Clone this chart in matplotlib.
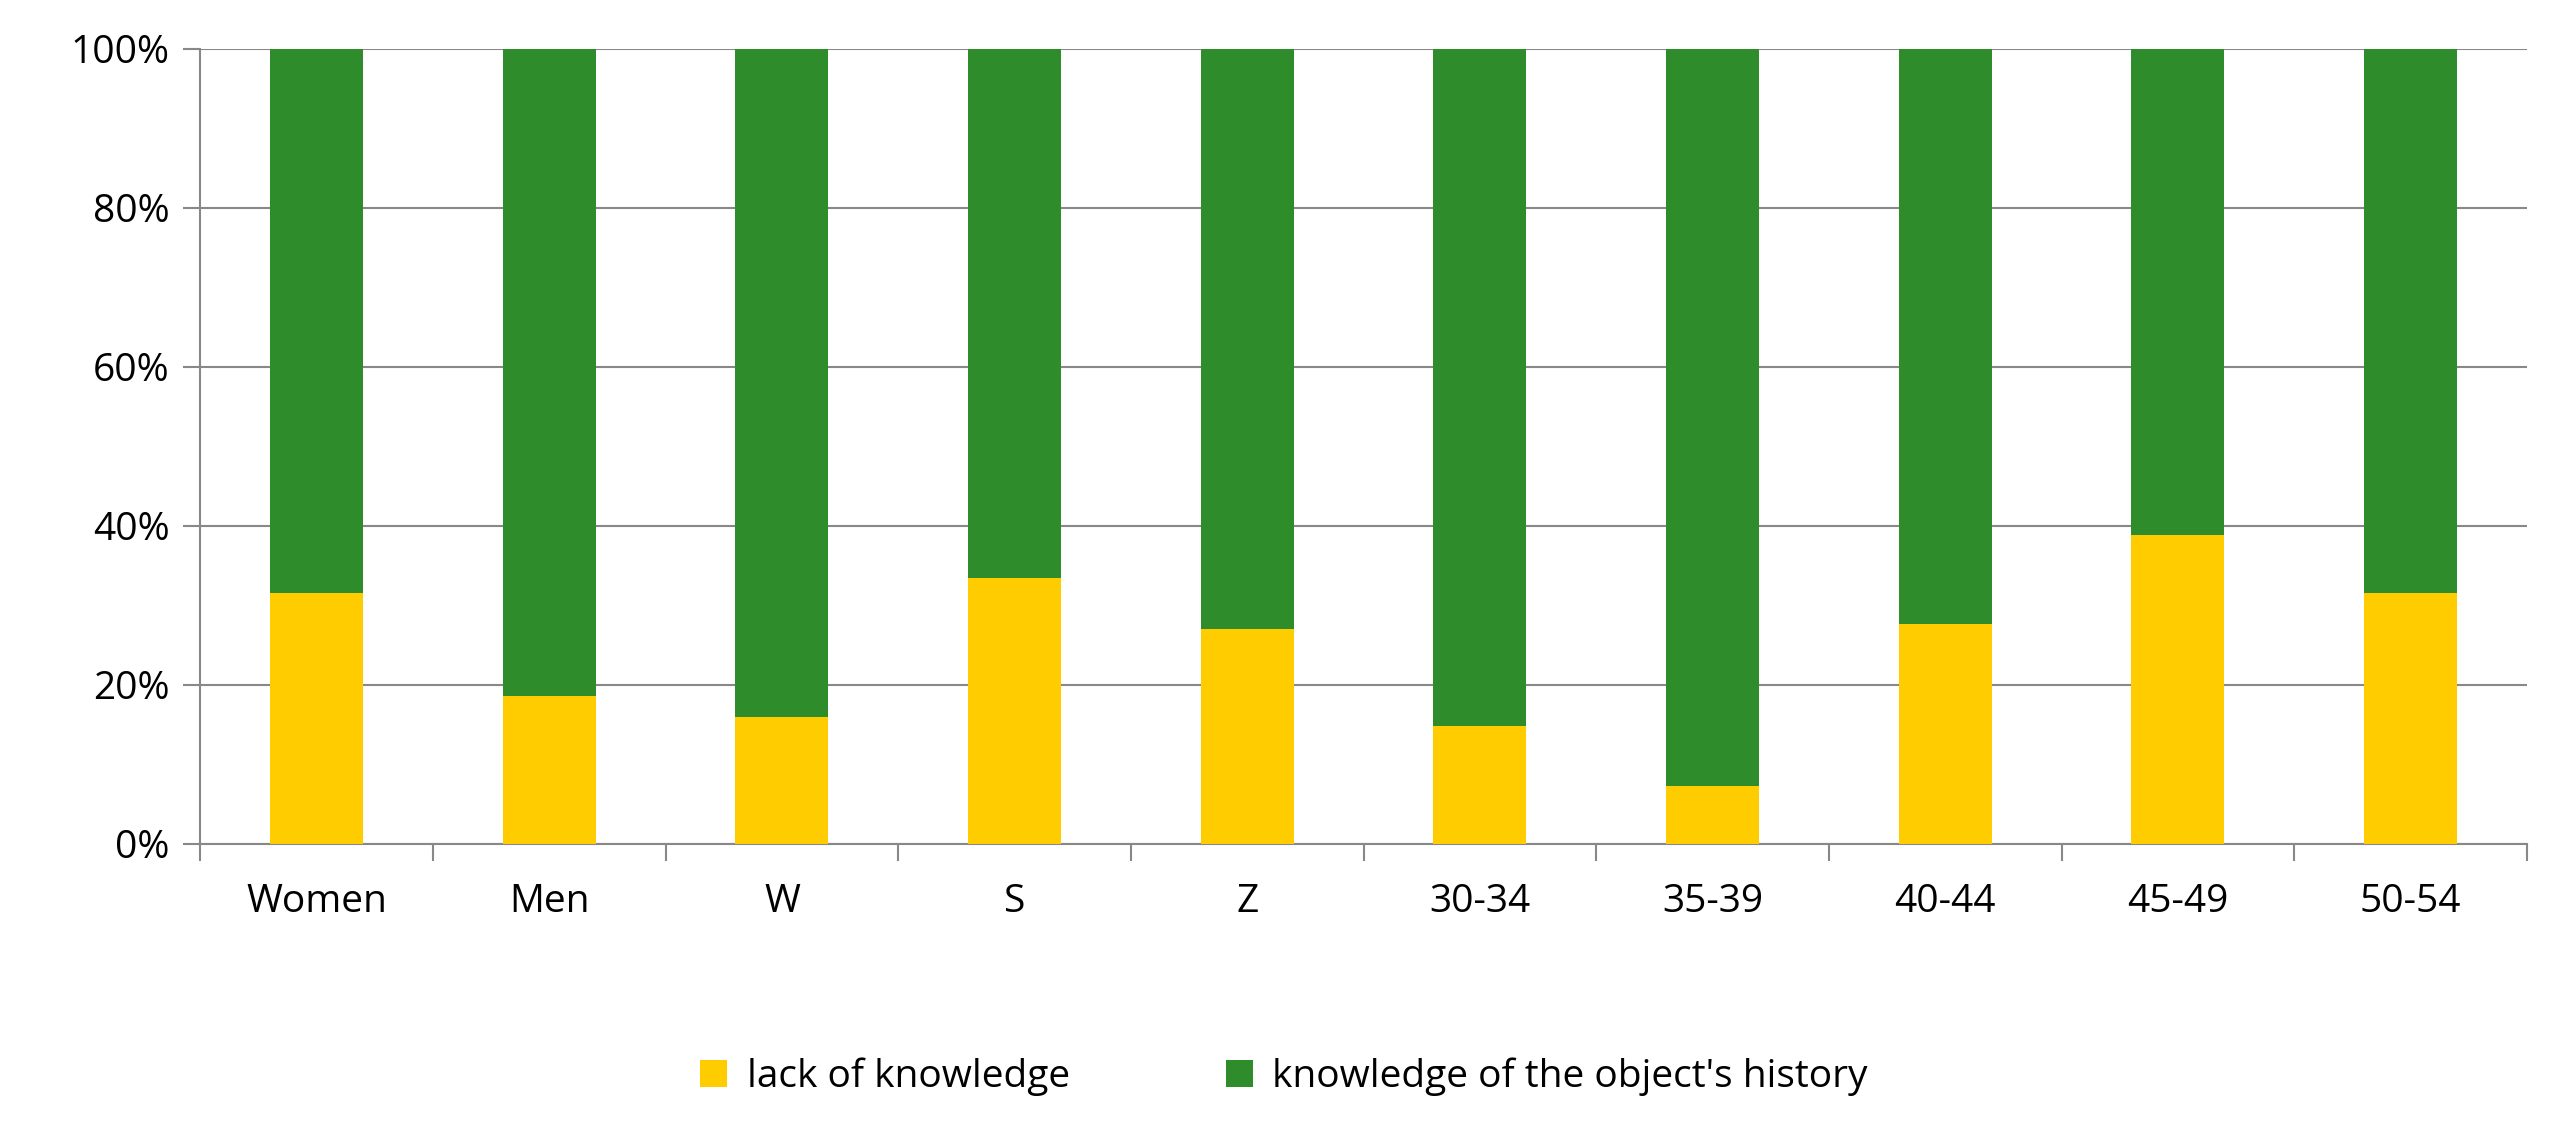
import matplotlib
matplotlib.use("Agg")
import matplotlib.pyplot as plt
import numpy as np

categories = ["Women", "Men", "W", "S", "Z", "30-34", "35-39", "40-44", "45-49", "50-54"]
lack = [31.5, 18.6, 16.0, 33.4, 27.0, 14.8, 7.2, 27.6, 38.8, 31.5]
know = [100 - v for v in lack]
series_labels = ["lack of knowledge", "knowledge of the object's history"]

plt.rcParams['font.family'] = ['Open Sans', 'DejaVu Sans']
fig = plt.figure(figsize=(25.68, 11.31), dpi=100)
ax = fig.add_axes([0.078, 0.254, 0.906, 0.703])
x = np.arange(len(categories))
w = 0.4
ax.bar(x, lack, w, color="#FFCC00", label=series_labels[0], zorder=3)
ax.bar(x, know, w, bottom=lack, color="#2F8C2A", label=series_labels[1], zorder=3)
ax.set_xlim(-0.5, len(categories) - 0.5)
ax.set_ylim(0, 100)
ax.set_yticks(range(0, 101, 20))
ax.set_yticklabels([f"{v}%" for v in range(0, 101, 20)], fontsize=28)
ax.yaxis.grid(True, color="#888888", linewidth=1.5, zorder=0)
ax.set_xticks(x)
ax.set_xticklabels(categories, fontsize=28)
ax.tick_params(axis='x', length=0, pad=28)
ax.set_xticks(np.arange(-0.5, len(categories)), minor=True)
ax.tick_params(axis='x', which='minor', length=12, width=1.5, color="#888888")
ax.tick_params(axis='y', length=12, width=1.5, color="#888888", pad=10)
for s in ["top", "right"]:
    ax.spines[s].set_visible(False)
for s in ["left", "bottom"]:
    ax.spines[s].set_color("#888888")
    ax.spines[s].set_linewidth(1.5)
fig.legend(loc="center", bbox_to_anchor=(0.5, 0.048), ncol=2, frameon=False,
           fontsize=28, handlelength=0.7, handleheight=0.7, columnspacing=4, handletextpad=0.5)
fig.savefig("out.png", dpi=100, facecolor="white")
